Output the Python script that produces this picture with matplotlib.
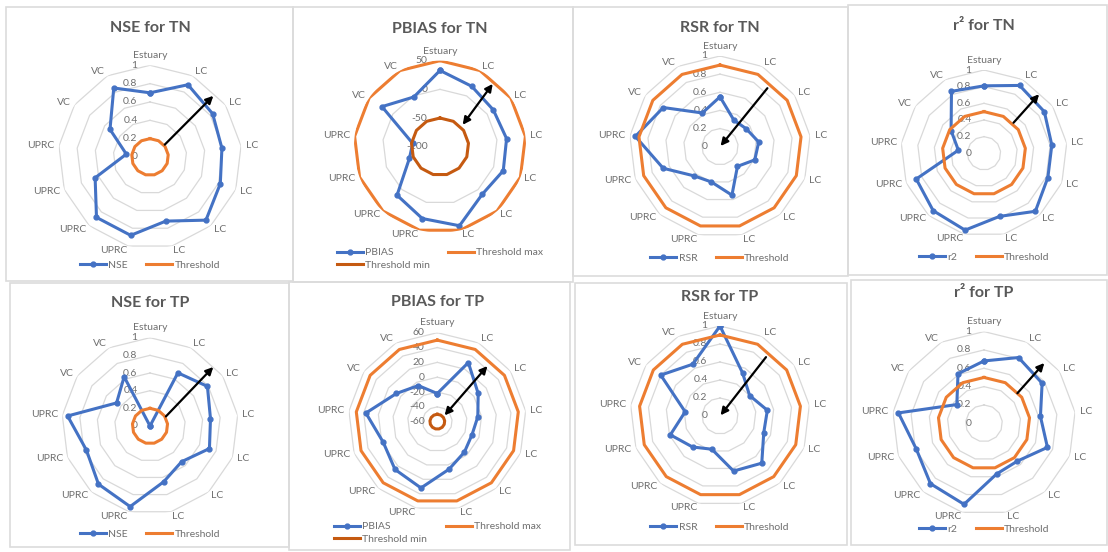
import numpy as np
import matplotlib.pyplot as plt
from matplotlib.patches import Rectangle
from matplotlib.transforms import offset_copy

plt.rcParams['font.family'] = ['Lato', 'DejaVu Sans']

categories = ['Estuary', 'LC', 'LC', 'LC', 'LC', 'LC', 'LC',
              'UPRC', 'UPRC', 'UPRC', 'UPRC', 'VC', 'VC']

# values
nse_tn = [0.70, 0.89, 0.83, 0.79, 0.82, 0.92, 0.72, 0.88, 0.88, 0.64, 0.26, 0.53, 0.85]
pbias_tn = [33, 19, 13, 17, 18, 11, 42, 29, 13, -43, -52, 23, -2]
rsr_tn = [0.55, 0.33, 0.35, 0.43, 0.41, 0.29, 0.55, 0.40, 0.43, 0.67, 0.94, 0.76, 0.42]
r2_tn = [0.81, 0.92, 0.88, 0.82, 0.82, 0.93, 0.78, 0.95, 0.92, 0.87, 0.31, 0.48, 0.84]
nse_tp = [0.0, 0.68, 0.79, 0.69, 0.72, 0.54, 0.65, 0.94, 0.88, 0.77, 0.94, 0.46, 0.63]
pbias_tp = [-22, 30, 7, -5, -10, -5, 6, 32, 26, 18, 37, 7, -5]
rsr_tp = [1.0, 0.54, 0.40, 0.53, 0.52, 0.70, 0.63, 0.38, 0.46, 0.59, 0.39, 0.80, 0.65]
r2_tp = [0.68, 0.81, 0.77, 0.62, 0.74, 0.55, 0.57, 0.91, 0.88, 0.79, 0.94, 0.36, 0.61]

nse_threshold = 0.2
rsr_threshold = 0.9
r2_threshold = 0.5
pbias_max = 50
pbias_min = -50

unit_ticks = [0, 0.2, 0.4, 0.6, 0.8, 1]
pbias_tn_ticks = [-100, -50, 0, 50]
pbias_tp_ticks = [-60, -40, -20, 0, 20, 40, 60]

# arrows: (theta start deg, r start, theta end deg, r end, style)
arrow_nse_tn = (50, 0.21, 46, 0.96, '-|>')
arrow_pbias_tn = (46, -45, 40, 43, '<|-|>')
arrow_rsr_tn = (39, 0.83, 39, 0.01, '-|>')
arrow_r2_tn = (44, 0.51, 43, 0.97, '-|>')
arrow_nse_tp = (59, 0.21, 47, 0.98, '-|>')
arrow_pbias_tp = (49, -47, 42, 41, '<|-|>')
arrow_rsr_tp = (38, 0.83, 38, 0.01, '-|>')
arrow_r2_tp = (48, 0.49, 45, 0.93, '-|>')

BLUE = '#4472C4'
ORANGE = '#ED7D31'
DARK = '#C55A11'
GRID = '#d9d9d9'
TXT = '#6f6f6f'

W, H = 1108, 552
fig = plt.figure(figsize=(W / 100, H / 100), dpi=100)

angles = np.linspace(0, 2 * np.pi, len(categories), endpoint=False)
closed = np.append(angles, angles[0])


def loop(vals):
    return np.append(vals, vals[0])


def panel(box, center, radius, title, title_y, name, values, ticks,
          thresholds, arrow, legend_y):
    x0, y0, x1, y1 = box
    fig.add_artist(Rectangle((x0 / W, 1 - y1 / H), (x1 - x0) / W, (y1 - y0) / H,
                             transform=fig.transFigure, fill=False,
                             edgecolor='#dcdcdc', lw=1.2))
    cx, cy = center
    ax = fig.add_axes([(cx - radius) / W, 1 - (cy + radius) / H,
                       2 * radius / W, 2 * radius / H], projection='polar')
    ax.set_theta_zero_location('N')
    ax.set_theta_direction(-1)
    ax.set_ylim(ticks[0], ticks[-1])
    ax.grid(False)
    ax.set_xticks([])
    ax.set_yticks([])
    ax.spines['polar'].set_visible(False)
    ax.patch.set_alpha(0)

    for t in ticks[1:]:
        ax.plot(closed, [t] * len(closed), color=GRID, lw=0.9, zorder=1)
    lab_tr = offset_copy(ax.transData, fig=fig, x=-9, y=0, units='points')
    for t in ticks:
        ax.text(0, t, '%g' % t, transform=lab_tr, ha='right', va='center',
                fontsize=7.5, color=TXT, zorder=2)

    span = ticks[-1] - ticks[0]
    for a, c in zip(angles, categories):
        s = np.sin(a)
        if abs(s) < 0.05:
            ax.text(a, ticks[0] + span * 1.06, c, ha='center', va='bottom',
                    fontsize=7.5, color=TXT)
        else:
            ax.text(a, ticks[0] + span * 1.05, c,
                    ha='left' if s > 0 else 'right', va='center',
                    fontsize=7.5, color=TXT)

    handles = []
    h, = ax.plot(closed, loop(values), color=BLUE, lw=2.2, marker='o',
                 ms=3.5, zorder=3, label=name)
    handles.append(h)
    for lbl, val, col in thresholds:
        h, = ax.plot(closed, [val] * len(closed), color=col, lw=2.2,
                     zorder=3, label=lbl)
        handles.append(h)

    t0, r0, t1, r1, style = arrow
    ax.annotate('', xy=(np.deg2rad(t1), r1), xytext=(np.deg2rad(t0), r0),
                arrowprops=dict(arrowstyle=style, color='black', lw=1.6,
                                mutation_scale=11, shrinkA=0, shrinkB=0),
                zorder=5)

    fig.text(cx / W, 1 - title_y / H, title, ha='center', va='center',
             fontsize=11.5, fontweight='bold', color='#595959')
    ax.legend(handles=handles, loc='center', ncol=2, frameon=False,
              bbox_to_anchor=(cx / W, 1 - legend_y / H),
              bbox_transform=fig.transFigure, fontsize=7.5,
              handlelength=2.5, columnspacing=1.8, handletextpad=0.2,
              labelspacing=0.3, labelcolor=TXT)
    return ax


thr_nse = [('Threshold', nse_threshold, ORANGE)]
thr_rsr = [('Threshold', rsr_threshold, ORANGE)]
thr_r2 = [('Threshold', r2_threshold, ORANGE)]
thr_pb = [('Threshold min', pbias_min, DARK), ('Threshold max', pbias_max, ORANGE)]

panel((6, 7, 293, 281), (150, 157), 91.7, 'NSE for TN', 28, 'NSE', nse_tn,
      unit_ticks, thr_nse, arrow_nse_tn, 265)
panel((293, 7, 573, 282), (440, 146.7), 86, 'PBIAS for TN', 29, 'PBIAS',
      pbias_tn, pbias_tn_ticks, thr_pb, arrow_pbias_tn, 259)
panel((573, 7, 848, 276), (720, 146.7), 90.7, 'RSR for TN', 28, 'RSR', rsr_tn,
      unit_ticks, thr_rsr, arrow_rsr_tn, 258)
panel((848, 5, 1107, 275), (984, 153.3), 83.3, 'r² for TN', 26, 'r2', r2_tn,
      unit_ticks, thr_r2, arrow_r2_tn, 257)
panel((10, 283, 289, 547), (150, 426), 88.3, 'NSE for TP', 303, 'NSE', nse_tp,
      unit_ticks, thr_nse, arrow_nse_tp, 534)
panel((289, 282, 570, 550), (437.3, 421.7), 89, 'PBIAS for TP', 302, 'PBIAS',
      pbias_tp, pbias_tp_ticks, thr_pb, arrow_pbias_tp, 533)
panel((575, 283, 847, 545), (720, 416), 90, 'RSR for TP', 297, 'RSR', rsr_tp,
      unit_ticks, thr_rsr, arrow_rsr_tp, 527)
panel((851, 280, 1107, 545), (984, 423.3), 91.7, 'r² for TP', 293, 'r2', r2_tp,
      unit_ticks, thr_r2, arrow_r2_tp, 529)

fig.savefig('out.png', dpi=100, facecolor='white')
